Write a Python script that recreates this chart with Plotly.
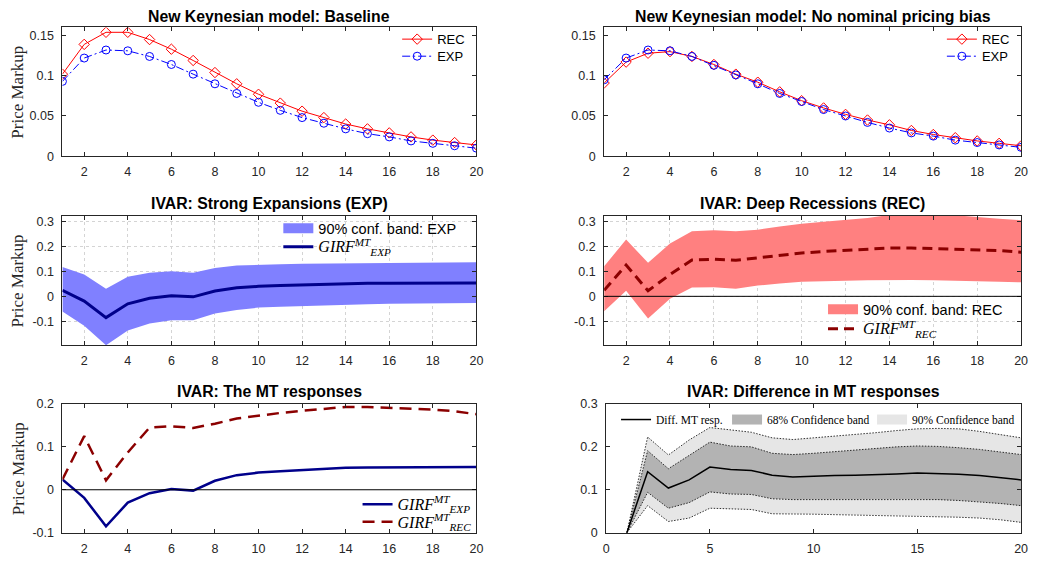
import plotly.graph_objects as go

W, H = 1039, 566

# ---------------- data ----------------
periods = list(range(1, 21))

nk_base_rec = [0.102, 0.139, 0.154, 0.154, 0.145, 0.133, 0.119, 0.104, 0.090, 0.077,
               0.066, 0.056, 0.048, 0.040, 0.034, 0.029, 0.024, 0.020, 0.017, 0.014]
nk_base_exp = [0.093, 0.122, 0.132, 0.131, 0.124, 0.114, 0.102, 0.090, 0.078, 0.067,
               0.057, 0.048, 0.041, 0.034, 0.028, 0.024, 0.019, 0.016, 0.013, 0.010]

nk_nobias_rec = [0.091, 0.117, 0.128, 0.130, 0.124, 0.114, 0.102, 0.092, 0.080, 0.069,
                 0.060, 0.052, 0.045, 0.039, 0.032, 0.027, 0.023, 0.019, 0.016, 0.013]
nk_nobias_exp = [0.095, 0.122, 0.132, 0.131, 0.124, 0.113, 0.101, 0.090, 0.078, 0.068,
                 0.058, 0.050, 0.042, 0.035, 0.029, 0.025, 0.020, 0.017, 0.014, 0.011]

girf_exp = [0.024, -0.019, -0.085, -0.030, -0.008, 0.002, -0.002, 0.021, 0.034, 0.040,
            0.043, 0.046, 0.049, 0.051, 0.052, 0.052, 0.053, 0.053, 0.053, 0.053]
exp_band_upper = [0.117, 0.087, 0.030, 0.078, 0.094, 0.100, 0.094, 0.113, 0.123, 0.127,
                  0.128, 0.130, 0.131, 0.132, 0.133, 0.134, 0.134, 0.135, 0.135, 0.136]
exp_band_lower = [-0.061, -0.117, -0.195, -0.136, -0.108, -0.095, -0.095, -0.069, -0.055, -0.045,
                  -0.042, -0.039, -0.036, -0.034, -0.032, -0.030, -0.029, -0.028, -0.027, -0.027]

girf_rec = [0.024, 0.125, 0.022, 0.087, 0.145, 0.148, 0.144, 0.154, 0.166, 0.173,
            0.179, 0.184, 0.189, 0.193, 0.193, 0.191, 0.189, 0.187, 0.183, 0.176]
rec_band_upper = [0.120, 0.227, 0.134, 0.211, 0.260, 0.264, 0.260, 0.266, 0.279, 0.290,
                  0.298, 0.305, 0.313, 0.325, 0.328, 0.328, 0.324, 0.316, 0.310, 0.304]
rec_band_lower = [-0.060, 0.022, -0.088, -0.010, 0.035, 0.036, 0.030, 0.043, 0.051, 0.058,
                  0.060, 0.062, 0.064, 0.065, 0.065, 0.064, 0.063, 0.061, 0.058, 0.056]

diff_mt = [0.0, 0.142, 0.104, 0.123, 0.153, 0.147, 0.145, 0.134, 0.130, 0.132,
           0.133, 0.134, 0.135, 0.137, 0.139, 0.138, 0.136, 0.133, 0.128, 0.123]
diff_68_upper = [0.0, 0.191, 0.149, 0.181, 0.211, 0.202, 0.200, 0.185, 0.182, 0.185,
                 0.189, 0.192, 0.196, 0.200, 0.202, 0.201, 0.198, 0.194, 0.188, 0.182]
diff_68_lower = [0.0, 0.094, 0.057, 0.070, 0.095, 0.090, 0.089, 0.079, 0.077, 0.077,
                 0.078, 0.078, 0.078, 0.078, 0.078, 0.077, 0.075, 0.072, 0.068, 0.063]
diff_90_upper = [0.0, 0.223, 0.181, 0.216, 0.245, 0.240, 0.234, 0.221, 0.217, 0.221,
                 0.225, 0.228, 0.233, 0.238, 0.242, 0.243, 0.242, 0.236, 0.229, 0.221]
diff_90_lower = [0.0, 0.063, 0.026, 0.034, 0.057, 0.055, 0.054, 0.044, 0.044, 0.043,
                 0.042, 0.041, 0.041, 0.040, 0.039, 0.037, 0.036, 0.034, 0.030, 0.024]

titles = ["New Keynesian model: Baseline",
          "New Keynesian model: No nominal pricing bias",
          "IVAR: Strong Expansions (EXP)",
          "IVAR: Deep Recessions (REC)",
          "IVAR: The MT responses",
          "IVAR: Difference in MT responses"]

ticks_x_even = [2, 4, 6, 8, 10, 12, 14, 16, 18, 20]
ticks_x_five = [0, 5, 10, 15, 20]
ticks_y_nk = [0, 0.05, 0.1, 0.15]
ticks_y_nk_text = ["0", "0.05", "0.1", "0.15"]
ticks_y_ivar = [-0.1, 0, 0.1, 0.2, 0.3]
ticks_y_ivar_text = ["-0.1", "0", "0.1", "0.2", "0.3"]
ticks_y_mt = [-0.1, 0, 0.1, 0.2]
ticks_y_mt_text = ["-0.1", "0", "0.1", "0.2"]
ticks_y_diff = [0, 0.1, 0.2, 0.3]
ticks_y_diff_text = ["0", "0.1", "0.2", "0.3"]

# ---------------- style ----------------
AX = "#262626"
SANS = "Liberation Sans, Arial, sans-serif"
SERIF = "Liberation Serif, Times New Roman, serif"
C_RED = "#ff0000"
C_BLUE = "#0000ff"
C_NAVY = "#00008b"
C_DRED = "#8b0000"
C_EXPBAND = "#8080ff"
C_RECBAND = "#ff8080"
C_68 = "#b3b3b3"
C_90 = "#e6e6e6"

# axes boxes in pixels: x0, x1, y0(top), y1(bottom)
boxes = {
    1: (60, 478, 21, 153),
    2: (607, 1028, 21, 153),
    3: (60, 478, 214, 347),
    4: (607, 1028, 214, 347),
    5: (60, 478, 407, 539),
    6: (609, 1028, 407, 539),
}


def band_poly(x, up, lo):
    return list(x) + list(x)[::-1], list(up) + list(lo)[::-1]


def girf(sub):
    return ("<span style='font-family:Liberation Serif;font-size:16px'><i>GIRF</i>"
            "<sup><i>MT</i></sup><sub><i>" + sub + "</i></sub></span>")


fig = go.Figure()

# Panel 1
fig.add_trace(go.Scatter(x=periods, y=nk_base_rec, mode="lines+markers", name="REC",
                         line=dict(color=C_RED, width=1),
                         marker=dict(symbol="diamond-open", size=8, color=C_RED, line=dict(width=1)),
                         xaxis="x", yaxis="y", legend="legend"))
fig.add_trace(go.Scatter(x=periods, y=nk_base_exp, mode="lines+markers", name="EXP",
                         line=dict(color=C_BLUE, width=1, dash="8px,3px,2px,3px"),
                         marker=dict(symbol="circle-open", size=8, color=C_BLUE, line=dict(width=1)),
                         xaxis="x", yaxis="y", legend="legend2"))
# Panel 2
fig.add_trace(go.Scatter(x=periods, y=nk_nobias_rec, mode="lines+markers", name="REC",
                         line=dict(color=C_RED, width=1),
                         marker=dict(symbol="diamond-open", size=8, color=C_RED, line=dict(width=1)),
                         xaxis="x2", yaxis="y2", legend="legend3"))
fig.add_trace(go.Scatter(x=periods, y=nk_nobias_exp, mode="lines+markers", name="EXP",
                         line=dict(color=C_BLUE, width=1, dash="8px,3px,2px,3px"),
                         marker=dict(symbol="circle-open", size=8, color=C_BLUE, line=dict(width=1)),
                         xaxis="x2", yaxis="y2", legend="legend4"))

# Panel 3
bx, by = band_poly(periods, exp_band_upper, exp_band_lower)
fig.add_trace(go.Scatter(x=bx, y=by, fill="toself", fillcolor=C_EXPBAND, mode="lines",
                         line=dict(width=0, color=C_EXPBAND), showlegend=False,
                         xaxis="x3", yaxis="y3", hoverinfo="skip"))
fig.add_trace(go.Scatter(x=[None], y=[None], mode="lines", name="90% conf. band: EXP",
                         line=dict(color=C_EXPBAND, width=15),
                         xaxis="x3", yaxis="y3", legend="legend5"))
fig.add_trace(go.Scatter(x=periods, y=girf_exp, mode="lines", name=girf("EXP"),
                         line=dict(color=C_NAVY, width=3),
                         xaxis="x3", yaxis="y3", legend="legend6"))

# Panel 4
bx, by = band_poly(periods, rec_band_upper, rec_band_lower)
fig.add_trace(go.Scatter(x=bx, y=by, fill="toself", fillcolor=C_RECBAND, mode="lines",
                         line=dict(width=0, color=C_RECBAND), showlegend=False,
                         xaxis="x4", yaxis="y4", hoverinfo="skip"))
fig.add_trace(go.Scatter(x=[None], y=[None], mode="lines", name="90% conf. band: REC",
                         line=dict(color=C_RECBAND, width=15),
                         xaxis="x4", yaxis="y4", legend="legend7"))
fig.add_trace(go.Scatter(x=periods, y=girf_rec, mode="lines", name=girf("REC"),
                         line=dict(color=C_DRED, width=3, dash="10px,6px"),
                         xaxis="x4", yaxis="y4", legend="legend8"))

# Panel 5
fig.add_trace(go.Scatter(x=periods, y=girf_exp, mode="lines", name=girf("EXP"),
                         line=dict(color=C_NAVY, width=2.5),
                         xaxis="x5", yaxis="y5", legend="legend9"))
fig.add_trace(go.Scatter(x=periods, y=girf_rec, mode="lines", name=girf("REC"),
                         line=dict(color=C_DRED, width=2.5, dash="12px,7px"),
                         xaxis="x5", yaxis="y5", legend="legend10"))

# Panel 6
bx, by = band_poly(periods, diff_90_upper, diff_90_lower)
fig.add_trace(go.Scatter(x=bx, y=by, fill="toself", fillcolor=C_90, mode="lines",
                         line=dict(width=0, color=C_90), showlegend=False,
                         xaxis="x6", yaxis="y6", hoverinfo="skip"))
bx, by = band_poly(periods, diff_68_upper, diff_68_lower)
fig.add_trace(go.Scatter(x=bx, y=by, fill="toself", fillcolor=C_68, mode="lines",
                         line=dict(width=0, color=C_68), showlegend=False,
                         xaxis="x6", yaxis="y6", hoverinfo="skip"))
for series in (diff_90_upper, diff_68_upper, diff_68_lower, diff_90_lower):
    fig.add_trace(go.Scatter(x=periods, y=series, mode="lines", showlegend=False,
                             line=dict(color="#000000", width=0.8, dash="1.5px,1.5px"),
                             xaxis="x6", yaxis="y6"))
fig.add_trace(go.Scatter(x=periods, y=diff_mt, mode="lines", name="Diff. MT resp.",
                         line=dict(color="#000000", width=1.5), legendwidth=66,
                         xaxis="x6", yaxis="y6", legend="legend11", legendrank=1))
fig.add_trace(go.Scatter(x=[None], y=[None], mode="lines", name="68% Confidence band",
                         line=dict(color=C_68, width=10), legendwidth=100,
                         xaxis="x6", yaxis="y6", legend="legend11", legendrank=2))
fig.add_trace(go.Scatter(x=[None], y=[None], mode="lines", name="90% Confidence band",
                         line=dict(color=C_90, width=10),
                         xaxis="x6", yaxis="y6", legend="legend11", legendrank=3))

# ---------------- axes ----------------
axis_common = dict(showline=True, linecolor=AX, linewidth=1, mirror="ticks",
                   ticks="inside", ticklen=4, tickcolor=AX, tickwidth=1,
                   tickfont=dict(family=SANS, size=12.5, color=AX),
                   zeroline=False, showgrid=False, fixedrange=True)

xcfg = {1: ([1, 20], ticks_x_even), 2: ([1, 20], ticks_x_even),
        3: ([1, 20], ticks_x_even), 4: ([1, 20], ticks_x_even),
        5: ([1, 20], ticks_x_even), 6: ([0, 20], ticks_x_five)}
ycfg = {1: ([0, 0.16], ticks_y_nk, ticks_y_nk_text),
        2: ([0, 0.16], ticks_y_nk, ticks_y_nk_text),
        3: ([-0.196, 0.322], ticks_y_ivar, ticks_y_ivar_text),
        4: ([-0.196, 0.322], ticks_y_ivar, ticks_y_ivar_text),
        5: ([-0.1, 0.2], ticks_y_mt, ticks_y_mt_text),
        6: ([0, 0.3], ticks_y_diff, ticks_y_diff_text)}

layout_axes = {}
for i in range(1, 7):
    x0, x1, y0, y1 = boxes[i]
    sfx = "" if i == 1 else str(i)
    xa = dict(axis_common)
    xa.update(domain=[x0 / W, x1 / W], range=xcfg[i][0], tickvals=xcfg[i][1],
              anchor="y" + sfx, ticklabelstandoff=4)
    ya = dict(axis_common)
    ya.update(domain=[1 - y1 / H, 1 - y0 / H], range=ycfg[i][0], tickvals=ycfg[i][1],
              ticktext=ycfg[i][2], anchor="x" + sfx, ticklabelstandoff=5)
    if i in (3, 4):
        for a in (xa, ya):
            a.update(showgrid=True, gridcolor="#d4d4d4", gridwidth=1, griddash="dot")
    layout_axes["xaxis" + sfx] = xa
    layout_axes["yaxis" + sfx] = ya

fig.update_layout(**layout_axes)

# zero reference lines (above the bands)
shapes = []
for i in (4, 5):
    sfx = str(i)
    shapes.append(dict(type="line", xref="x" + sfx + " domain", yref="y" + sfx,
                       x0=0, x1=1, y0=0, y1=0, line=dict(color="#000000", width=1),
                       layer="above"))

# titles and y labels
annotations = []
title_y = {1: 10, 2: 10, 3: 201, 4: 201, 5: 394, 6: 394}
for i in range(1, 7):
    x0, x1, y0, y1 = boxes[i]
    annotations.append(dict(text="<b>" + titles[i - 1] + "</b>", xref="paper", yref="paper",
                            x=(x0 + x1) / 2 / W, y=1 - title_y[i] / H, xanchor="center",
                            yanchor="middle", showarrow=False,
                            font=dict(family=SANS, size=15.8, color="#000000")))
for i in (1, 3, 5):
    x0, x1, y0, y1 = boxes[i]
    annotations.append(dict(text="Price Markup", xref="paper", yref="paper",
                            x=15 / W, y=1 - (y0 + y1) / 2 / H, xanchor="center",
                            yanchor="middle", textangle=-90, showarrow=False,
                            font=dict(family=SERIF, size=17, color=AX)))

leg_common = dict(bgcolor="rgba(255,255,255,0)", borderwidth=0, xanchor="left",
                  yanchor="middle", tracegroupgap=0, itemclick=False, itemdoubleclick=False)
f13 = dict(family=SANS, size=13, color="#000000")
f14 = dict(family=SANS, size=14.5, color="#000000")
# (symbol start x px, legend anchor y px, font)
legend_items = {
    "legend": (403, 33, f13), "legend2": (403, 50.5, f13),
    "legend3": (953, 33, f13), "legend4": (953, 50.5, f13),
    "legend5": (283, 227, f14), "legend6": (283, 246, f14),
    "legend7": (833, 310, f14), "legend8": (833, 330, f14),
    "legend9": (363, 510, f14), "legend10": (363, 528, f14),
}
legends = {}
for k, (lx, ly, fnt) in legend_items.items():
    d = dict(leg_common)
    d.update(x=(lx - 5) / W, y=1 - ly / H, font=fnt)
    legends[k] = d
d = dict(leg_common)
d.update(x=619 / W, y=1 - 423 / H, orientation="h",
         font=dict(family=SERIF, size=11.5, color="#000000"))
legends["legend11"] = d

fig.update_layout(
    width=W, height=H, margin=dict(l=0, r=0, t=0, b=0),
    paper_bgcolor="white", plot_bgcolor="white",
    shapes=shapes, annotations=annotations, showlegend=True,
    **legends,
)

fig.write_html("out.html", config={"displayModeBar": False})
